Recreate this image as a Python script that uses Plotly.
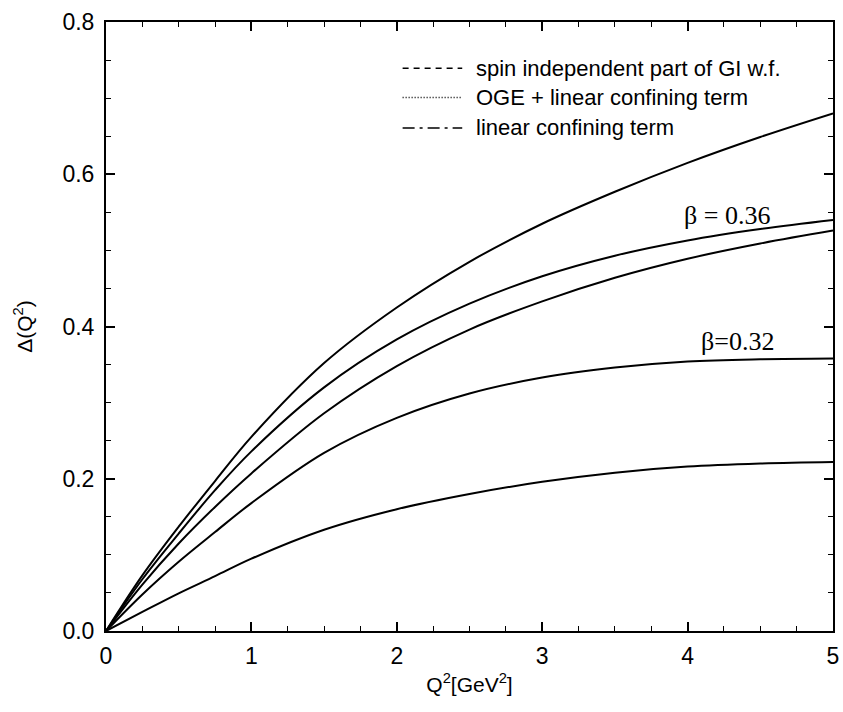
import plotly.graph_objects as go

# Q^2 grid [GeV^2]
q2 = [0, 0.25, 0.5, 0.75, 1.0, 1.5, 2.0, 2.5, 3.0, 3.5, 4.0, 4.5, 5.0]

# Delta(Q^2) curves, top to bottom
delta_a = [0, 0.073, 0.137, 0.197, 0.255, 0.352, 0.425, 0.485, 0.535, 0.577, 0.615, 0.649, 0.680]
delta_b = [0, 0.068, 0.128, 0.185, 0.236, 0.320, 0.383, 0.430, 0.466, 0.493, 0.513, 0.528, 0.540]   # beta = 0.36
delta_c = [0, 0.061, 0.115, 0.163, 0.207, 0.286, 0.348, 0.396, 0.433, 0.464, 0.489, 0.509, 0.526]
delta_d = [0, 0.048, 0.091, 0.130, 0.168, 0.234, 0.280, 0.312, 0.333, 0.346, 0.354, 0.357, 0.358]   # beta = 0.32
delta_e = [0, 0.025, 0.0495, 0.072, 0.095, 0.133, 0.160, 0.180, 0.196, 0.208, 0.216, 0.220, 0.222]

curves = [delta_a, delta_b, delta_c, delta_d, delta_e]

legend_labels = [
    "spin independent part of GI w.f.",
    "OGE + linear confining term",
    "linear confining term",
]
legend_dashes = ["6px,5px", "1px,2px", "12px,5px,3px,5px"]

beta_labels = ["\u03b2 = 0.36", "\u03b2=0.32"]
beta_pos = [(4.27, 0.546), (4.34, 0.380)]

x_ticks = [0, 1, 2, 3, 4, 5]
y_ticks = [0.0, 0.2, 0.4, 0.6, 0.8]

fig = go.Figure()
for ys in curves:
    fig.add_trace(go.Scatter(
        x=q2, y=ys, mode="lines",
        line=dict(color="black", width=2, shape="spline", smoothing=1.0),
        showlegend=False, hoverinfo="skip",
    ))

# key: line samples drawn as shapes, text as annotations
row_y = [0.924, 0.876, 0.826]
for lab, dash, yy in zip(legend_labels, legend_dashes, row_y):
    fig.add_shape(type="line", xref="paper", yref="paper",
                  x0=0.408, x1=0.490, y0=yy, y1=yy,
                  line=dict(color="black", width=1.5, dash=dash))
    fig.add_annotation(xref="paper", yref="paper", x=0.506, y=yy,
                       text=lab, showarrow=False, xanchor="left", yanchor="middle",
                       font=dict(family="Liberation Sans, Arial", size=22, color="black"))

for lab, (bx, by) in zip(beta_labels, beta_pos):
    fig.add_annotation(x=bx, y=by, text=lab, showarrow=False,
                       xanchor="center", yanchor="middle",
                       font=dict(family="Liberation Serif, Times New Roman", size=26, color="black"))

axis_common = dict(
    showline=True, linecolor="black", linewidth=2, mirror="ticks",
    ticks="inside", ticklen=9, tickwidth=1.5, tickcolor="black",
    showgrid=False, zeroline=False, automargin=False,
    ticklabeloverflow="allow",
    tickfont=dict(family="Liberation Sans, Arial", size=23, color="black"),
)

fig.update_xaxes(
    range=[0, 5], tickvals=x_ticks, ticktext=[str(v) for v in x_ticks],
    minor=dict(ticks="inside", dtick=0.25, ticklen=5, tickwidth=1.2, tickcolor="black"),
    ticklabelstandoff=3,
    title=dict(text="Q<sup>2</sup>[GeV<sup>2</sup>]", standoff=10,
               font=dict(family="Liberation Sans, Arial", size=21, color="black")),
    **axis_common,
)
fig.update_yaxes(
    range=[0, 0.8], tickvals=y_ticks, ticktext=[f"{v:.1f}" for v in y_ticks],
    minor=dict(ticks="inside", dtick=0.05, ticklen=5, tickwidth=1.2, tickcolor="black"),
    ticklabelstandoff=5,
    title=dict(text="\u0394(Q<sup>2</sup>)", standoff=24,
               font=dict(family="Liberation Sans, Arial", size=21, color="black")),
    **axis_common,
)

fig.update_layout(
    width=843, height=712,
    margin=dict(l=106, r=10, t=22, b=81),
    paper_bgcolor="white", plot_bgcolor="white",
    showlegend=False,
)

fig.write_html("out.html")
